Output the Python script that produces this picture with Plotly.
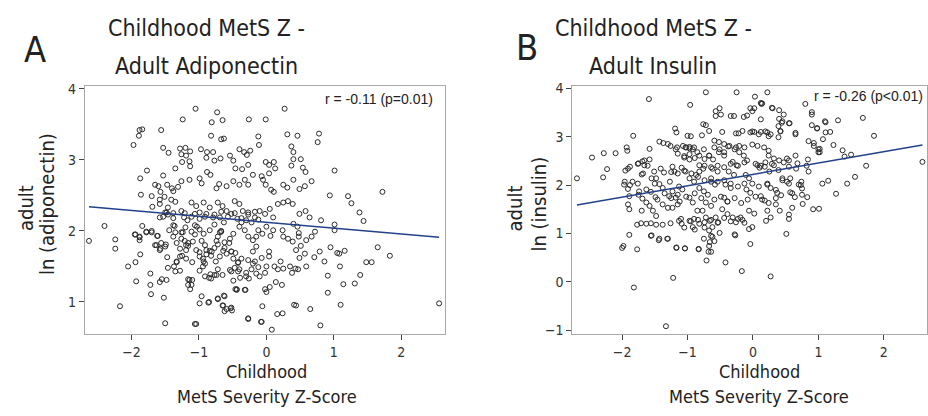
import plotly.graph_objects as go

# ---------------- data ----------------
adipo_x = [-1.05,-0.73,-0.01,0.27,-0.26,-1.24,-0.81,-0.65,-1.84,-1.88,-1.89,-1.56,-1.97,-0.82,-0.67,-0.63,
           0.31,0.46,-0.12,0.78,0.37,0.76,-0.11,-0.24,-0.29,1.01,-1.77,-1.87,-1.53,-1.45,-1.28,-1.20,-1.13,
           -1.26,-1.19,-1.25,-1.14,-1.35,-1.13,-0.97,-0.88,-0.89,-0.79,-0.77,-0.68,-0.54,-0.49,-0.40,-0.33,
           -0.46,-0.36,-0.27,-0.01,0.04,0.11,0.13,0.04,0.37,0.54,0.58,0.67,0.57,0.49,0.40,0.25,0.31,-0.20,
           -0.07,-0.05,-0.01,0.07,0.11,-0.32,-0.40,-0.27,-0.49,-0.59,-0.70,-0.74,-0.99,-0.96,-0.88,-0.83,
           -1.14,-1.26,-1.31,-1.38,-1.53,-1.47,-1.40,-1.65,-1.60,-1.57,-1.51,-1.86,-1.70,-1.58,-1.58,-1.41,
           -1.35,-1.46,-1.48,-1.69,-1.53,-1.58,-1.50,-1.38,-1.26,-1.22,-1.17,-1.11,-1.04,-1.06,-0.99,-0.93,
           -0.84,-0.89,-0.79,-0.72,-0.65,-0.59,-0.52,-0.69,-0.63,-0.47,-0.40,-0.35,-0.27,-0.43,-0.37,-0.30,
           -0.22,-0.17,-0.10,-0.02,0.05,0.10,0.17,0.25,0.32,0.39,0.49,0.58,0.64,0.40,0.46,1.38,1.21,1.26,
           1.72,0.94,1.44,1.01,1.01,0.81,0.72,0.67,0.59,0.48,0.48,0.32,0.39,0.24,0.25,0.10,0.06,0.00,-0.06,
           -0.12,-0.15,-0.20,-0.27,-0.32,-0.40,-0.49,-0.54,-0.67,-0.72,-0.84,-0.93,-1.03,-1.11,-1.20,-1.26,
           -1.38,-1.44,-1.62,-1.70,-1.78,-1.84,-1.95,-1.88,-2.40,-2.63,-2.24,-2.24,-2.05,-1.94,-1.87,-1.93,
           -2.17,-1.72,-1.71,-1.52,-1.50,-1.58,-1.55,-1.48,-1.63,-1.58,-1.56,-1.50,-1.47,-1.33,-1.28,-1.19,
           -1.19,-1.16,-1.16,-1.13,-1.10,-1.10,-0.99,-0.93,-0.94,-0.99,-0.85,-0.83,-0.99,-0.85,-0.72,-0.63,
           -1.04,-0.65,-0.62,-0.53,-0.51,-0.27,-0.08,-0.06,0.08,0.16,0.24,0.41,0.44,0.65,0.80,0.91,1.10,
           2.56,1.83,1.48,1.56,1.65,1.31,1.39,1.14,1.09,1.16,1.05,1.08,0.95,0.79,0.86,0.91,0.71,0.59,0.47,
           0.43,0.49,0.57,0.44,0.51,0.35,0.38,0.23,0.17,0.25,0.21,0.12,0.14,0.05,-0.02,0.00,-0.02,0.00,0.04,
           0.04,-0.07,-0.15,-0.20,-0.17,-0.22,-0.30,-0.26,-0.31,-0.40,-0.39,-0.44,-0.46,-0.42,-0.52,-0.54,
           -0.55,-0.62,-0.69,-0.75,-0.77,-0.81,-0.72,-0.77,-0.65,-0.49,-0.46,-0.89,-0.89,-1.04,-1.09,-1.16,
           -1.33,-1.26,-1.72,-1.46,-1.28,-1.37,-1.88,0.40,0.51,0.40,
           -1.65,-1.57,-1.49,-1.78,-1.70,-1.61,-1.94,-1.88,-1.35,-1.33,-1.38,-1.35,-1.36,-1.24,-1.21,-1.16,
           -1.28,-1.25,-1.19,-1.06,-0.99,-1.06,-0.96,-0.91,-0.99,-0.94,-0.91,-0.84,-0.82,-0.77,-0.69,-0.67,
           -0.74,-0.72,-0.62,-0.64,-0.59,-0.52,-0.49,-0.42,-0.47,-0.37,-0.27,-0.20,-0.12,-0.15,-0.10,-0.30,
           -0.42,-0.52,-0.44,-0.32,-0.74,-0.82,-0.91,-1.14,-1.11,-0.96,-0.86,-0.72,-0.62,-0.64,-0.59,-0.52,
           -0.27,-0.07,-1.06,-1.46,-1.38,-1.21,-1.11,-0.99,-0.91,-0.77,-0.67,-0.57,-0.47,-0.37,-0.27,-0.17,-0.12]
adipo_y = [3.72,3.67,3.57,3.72,3.57,3.57,3.53,3.56,3.43,3.42,3.34,3.42,3.21,3.34,3.29,3.30,
           3.36,3.34,3.33,3.37,3.19,3.25,3.21,3.13,3.07,2.85,2.85,2.74,3.17,3.10,3.16,3.17,3.12,
           3.08,3.06,2.97,2.98,2.88,2.91,3.15,3.11,3.03,3.11,2.99,3.02,3.06,2.99,3.15,3.11,
           2.88,2.87,2.93,2.97,2.93,2.97,2.88,2.81,2.92,2.89,2.83,2.70,2.63,2.59,2.72,2.65,2.61,2.79,
           2.77,2.72,2.65,2.58,2.55,2.72,2.65,2.65,2.70,2.63,2.66,2.60,2.74,2.67,2.83,2.79,
           2.72,2.70,2.62,2.56,2.78,2.65,2.60,2.65,2.63,2.55,2.48,2.51,2.49,2.44,2.38,2.44,
           2.41,2.33,2.26,2.34,2.20,2.19,2.26,2.25,2.28,2.19,2.15,2.40,2.35,2.24,2.17,2.40,
           2.33,2.24,2.19,2.40,2.35,2.28,2.24,2.19,2.12,2.42,2.38,2.28,2.26,2.17,2.12,2.15,
           2.12,2.19,2.28,2.24,2.31,2.19,2.38,2.40,2.42,2.38,2.24,2.28,2.19,2.10,2.06,2.26,2.49,2.39,
           2.55,2.50,2.14,2.09,2.01,2.15,1.99,1.92,1.87,1.97,1.92,1.89,1.85,2.01,1.92,2.01,1.93,2.06,1.96,
           2.01,1.92,1.87,1.92,2.01,2.06,1.96,1.89,1.99,1.92,2.01,1.96,2.06,1.99,2.05,1.98,
           2.08,2.01,1.93,1.98,1.99,2.07,1.95,1.92,2.07,1.86,1.88,1.75,1.50,1.56,1.67,1.29,
           0.94,1.24,1.11,1.06,0.70,1.28,1.32,1.31,1.80,1.73,1.83,1.78,1.63,1.56,1.64,1.73,
           1.80,1.32,1.24,1.18,1.31,1.56,1.64,1.57,1.50,1.44,1.34,1.39,0.98,1.00,1.05,1.09,
           0.69,0.95,0.87,0.91,0.88,0.77,0.72,0.94,0.61,0.83,0.84,0.96,0.95,0.90,0.67,1.13,0.96,
           0.98,1.65,1.56,1.56,1.77,1.26,1.38,1.25,1.50,1.72,1.69,1.68,1.77,1.71,1.57,1.37,1.63,1.50,1.46,
           1.47,1.62,1.68,1.73,1.79,1.50,1.41,1.24,1.46,1.47,1.57,1.50,1.28,1.21,1.18,1.14,1.41,1.50,1.64,
           1.71,1.62,1.78,1.71,1.57,1.46,1.41,1.33,1.17,1.46,1.34,1.18,1.69,1.55,1.71,1.45,
           1.83,1.76,1.64,1.57,1.76,1.71,1.46,1.38,1.38,1.30,1.18,1.73,1.67,1.73,1.85,1.83,
           1.83,1.89,1.40,1.48,1.44,1.50,1.87,3.11,3.01,3.01,
           1.80,1.75,1.81,1.98,2.00,1.93,1.95,1.91,1.43,1.57,1.92,1.98,2.07,1.98,1.86,1.79,
           1.75,1.65,1.61,2.08,2.02,1.95,1.86,1.80,1.70,1.61,1.54,1.72,1.65,2.09,1.98,2.00,
           1.86,1.81,1.84,1.72,1.68,1.71,1.61,1.56,1.48,1.61,1.59,1.54,1.49,1.40,1.36,1.36,
           1.43,1.43,1.17,1.17,1.38,1.33,1.36,1.31,1.24,1.08,0.99,1.04,1.08,0.95,0.90,0.92,
           0.76,0.72,0.69,2.23,2.18,2.25,2.20,2.26,2.20,2.23,2.27,2.20,2.25,2.18,2.23,2.27,2.16]

ins_x = [-2.69,-2.46,-2.28,-2.23,-2.29,-2.10,-1.95,-1.91,-1.93,-1.92,-1.83,-1.88,-1.84,-1.97,-1.91,
         -1.75,-1.69,-1.66,-1.59,-1.58,-1.58,-1.70,-1.89,-1.91,-1.89,-1.75,-1.69,-1.63,-1.56,-1.51,-1.48,
         -1.43,-1.37,-1.30,-1.41,-1.36,-1.43,-1.38,-1.49,-1.46,-1.38,-1.30,-1.27,-1.23,-1.20,-1.18,-1.15,
         -1.19,-1.17,-0.96,-0.72,-1.00,-0.95,-1.03,-0.97,-0.90,-1.05,-0.97,-1.09,-1.03,-1.13,-1.08,-1.18,
         -1.12,-1.23,-1.15,-0.97,-0.92,-0.97,-0.90,-0.82,-0.76,-0.85,-0.75,-0.76,-0.72,-0.78,-0.67,-0.59,
         -0.52,-0.57,-0.51,-0.49,-0.57,-0.47,-0.34,-0.29,-0.25,-0.26,-0.22,-0.16,-0.14,-0.09,-0.04,-0.01,
         0.03,0.22,0.12,0.13,0.12,-0.04,0.02,0.12,0.30,0.40,0.47,0.39,0.44,0.56,0.22,0.27,0.42,0.39,0.65,
         0.80,0.90,0.90,0.90,0.98,1.11,1.11,1.18,1.30,1.68,1.85,0.93,1.02,1.02,1.07,1.23,1.37,1.40,1.50,
         1.73,2.59,1.56,1.44,1.15,1.06,1.27,0.92,1.01,0.84,0.74,0.70,0.75,0.83,0.76,0.65,0.68,0.66,0.52,
         0.55,0.45,0.52,0.57,0.64,0.55,0.55,0.51,0.37,0.43,0.35,0.41,0.32,0.39,0.24,0.32,0.18,0.25,0.07,
         0.10,0.22,0.27,0.12,0.18,0.22,0.27,0.20,0.27,-0.04,-0.01,-0.06,-0.06,0.02,-0.10,-0.04,-0.11,-0.06,
         -0.14,-0.09,-0.26,-0.21,-0.31,-0.25,-0.37,-0.29,-0.42,-0.34,-0.44,-0.39,-0.47,-0.39,-0.31,-0.26,
         -0.19,-0.16,-0.17,-0.42,-0.27,-0.57,-0.53,-0.62,-0.67,-0.62,-0.66,-0.75,-0.68,-0.71,-0.83,-1.04,
         -1.17,-1.22,-1.33,-1.82,-1.77,-2.00,-1.98,-1.89,-1.56,-1.43,-1.30,-1.63,-1.56,-1.48,-1.38,-1.26,
         -1.13,-1.09,-0.97,-0.90,-0.92,-0.82,-0.72,-0.66,-0.85,-0.77,-0.72,-0.64,-0.82,-0.75,-0.64,-0.58,
         -0.62,-0.54,-0.67,-0.61,-0.52,-0.44,-0.44,-0.38,-0.87,-0.82,-1.23,-1.28,-1.53,-1.48,-1.70,-1.63,
         -1.58,-1.74,-1.77,-1.71,0.82,0.85,0.60,
         -1.26,-1.16,-1.07,-1.02,-0.97,-0.92,-1.05,-0.97,-0.89,-0.82,-0.74,-0.67,-0.59,-0.51,-0.44,
         -0.36,-0.28,-0.21,-0.13,-0.74,-0.64,-0.54,-0.44,-0.34,-0.23,-0.13,-1.25,-1.15,-1.05,-0.94,
         -0.84,-0.74,-0.64,-0.54,-0.44,-0.34,-0.23,-0.13,-1.35,-1.25,-1.15,-1.02,-0.89,-0.79,-0.69,
         -0.59,-0.49,-0.39,-0.28,-0.18,-0.08,-1.50,-1.55,-1.68,-1.76,-1.66,-1.61,-1.96,-1.88,-1.76,
         -0.01,0.09,0.19,0.24,-0.01,0.07,0.17,0.24,0.04,0.12,0.19,0.29,0.40,0.47,0.55,-0.01,0.09,
         0.22,0.35,0.45,0.57,0.55,0.04,0.14,0.24,0.35,0.73,0.75,0.60,0.98,1.10,0.65,0.85,0.93,1.00,
         1.00,0.45,0.55,0.42,0.02,0.14,0.29,0.40,-1.55,-1.44,-1.31,-1.17,-1.04,-0.83,-1.10,-0.95,
         -0.84,-0.74,-0.64,-0.54,-0.44,-0.34,-0.23,-0.13,-1.05,-0.89,-0.74,-0.51,-0.64,-0.28,-0.59,
         -0.67,-0.64]
ins_y = [2.14,2.57,2.66,2.33,2.16,2.66,2.30,2.34,2.78,2.71,3.02,2.38,2.07,2.01,1.92,
         2.45,2.49,2.41,3.78,2.75,2.53,2.22,1.77,1.60,1.50,1.80,1.72,1.91,1.86,2.28,2.14,
         2.90,2.87,2.85,2.34,2.26,2.02,1.94,1.75,1.70,1.60,1.53,2.07,2.38,2.28,2.74,2.65,
         3.17,3.09,3.66,3.92,3.02,3.01,2.78,2.76,2.78,2.60,2.53,2.36,2.28,1.97,1.91,1.74,
         1.66,1.53,1.60,1.74,1.64,2.14,2.07,2.41,2.34,2.68,2.74,3.26,3.24,3.03,3.12,2.92,
         2.89,3.53,3.59,3.46,3.43,3.10,3.43,3.43,3.92,3.07,3.07,3.12,3.41,3.44,3.59,3.53,
         3.83,3.92,3.70,3.68,3.36,3.09,3.10,3.10,3.59,3.37,3.46,3.22,3.29,3.28,3.09,3.05,3.12,2.99,3.05,
         3.68,3.46,3.51,3.24,3.17,3.30,3.09,3.10,3.34,3.39,3.02,2.87,2.75,2.68,2.95,2.83,2.72,2.59,2.63,
         2.40,2.48,2.17,2.03,2.09,2.03,1.82,1.50,1.51,2.53,2.07,2.01,1.80,1.75,1.61,2.61,2.45,2.34,2.55,
         2.38,2.14,2.07,1.85,1.75,1.39,1.30,0.99,1.84,1.79,1.60,1.47,2.41,2.31,2.61,2.55,2.38,2.28,2.41,
         2.36,2.01,1.94,1.77,1.68,1.47,1.33,1.26,0.11,0.78,1.13,1.09,1.47,1.41,1.91,1.84,2.21,2.14,
         2.61,2.51,2.78,2.68,2.48,2.41,2.28,2.21,2.01,1.94,1.74,1.66,1.50,1.40,1.33,1.23,
         1.33,1.28,0.22,0.40,0.96,1.33,1.23,1.13,1.06,0.93,0.82,0.89,0.62,0.44,0.67,0.69,
         0.70,0.08,-0.92,-0.12,0.67,0.70,0.74,0.97,0.95,0.89,0.89,1.20,1.21,1.18,1.18,1.21,
         1.26,1.20,1.26,1.30,1.13,1.20,1.33,1.26,1.47,1.47,1.64,1.57,1.94,1.87,2.07,2.01,
         2.34,2.28,2.61,2.53,2.68,2.61,2.85,2.80,2.21,2.28,1.87,1.77,1.47,1.36,1.47,1.64,
         1.57,1.87,1.18,1.21,2.40,2.28,1.53,
         2.81,2.78,2.81,2.78,2.79,2.74,2.57,2.64,2.56,2.61,2.54,2.61,2.78,2.74,2.68,
         2.81,2.74,2.81,2.78,2.40,2.37,2.40,2.37,2.44,2.40,2.47,2.27,2.24,2.30,2.24,
         2.17,2.10,2.14,2.07,2.10,2.03,1.97,2.03,1.83,1.73,1.80,1.76,1.83,1.73,1.80,
         1.70,1.76,1.66,1.73,1.63,1.70,2.03,2.14,2.24,2.44,2.51,2.40,2.07,2.00,2.03,
         3.11,3.05,3.11,3.01,2.84,2.81,2.78,2.71,2.44,2.40,2.47,2.44,2.51,2.47,2.51,2.03,1.97,
         2.03,1.90,2.10,2.14,2.03,1.76,1.70,1.63,1.73,2.00,1.93,1.83,3.18,3.32,3.08,2.91,2.81,2.74,
         2.68,3.32,3.28,3.11,3.59,3.69,3.60,3.55,0.96,0.86,0.89,0.71,0.69,0.68,1.30,1.25,
         1.28,1.23,1.28,1.22,1.32,1.25,1.30,1.22,1.12,1.08,1.12,1.01,0.95,0.98,0.84,
         0.74,0.62]

# regression lines (end points)
adipo_fit_x = [-2.63, 2.56]
adipo_fit_y = [2.34, 1.91]
ins_fit_x = [-2.69, 2.59]
ins_fit_y = [1.59, 2.83]

x_ticks = [-2, -1, 0, 1, 2]
adipo_y_ticks = [1, 2, 3, 4]
ins_y_ticks = [-1, 0, 1, 2, 3, 4]

title_lines = [("Childhood MetS Z -", "Adult Adiponectin"), ("Childhood MetS Z -", "Adult Insulin")]
y_titles = [("adult", "ln (adiponectin)"), ("adult", "ln (insulin)")]
x_title_lines = ("Childhood", "MetS Severity Z-Score")
stats = ["r = -0.11 (p=0.01)", "r = -0.26 (p&lt;0.01)"]
letters = ["A", "B"]

# ---------------- figure ----------------
W, H = 928, 416
COND = "DejaVu Sans Condensed, Liberation Sans Narrow, sans-serif"
SANS = "Liberation Sans, Arial, sans-serif"
marker = dict(symbol="circle-open", size=5, color="#2b2b2b", line=dict(width=1))
line_col = "#23418a"

fig = go.Figure()
fig.add_trace(go.Scatter(x=adipo_x, y=adipo_y, mode="markers", marker=marker, xaxis="x", yaxis="y",
                         showlegend=False, hoverinfo="skip"))
fig.add_trace(go.Scatter(x=adipo_fit_x, y=adipo_fit_y, mode="lines", line=dict(color=line_col, width=1.5),
                         xaxis="x", yaxis="y", showlegend=False))
fig.add_trace(go.Scatter(x=ins_x, y=ins_y, mode="markers", marker=marker, xaxis="x2", yaxis="y2",
                         showlegend=False, hoverinfo="skip"))
fig.add_trace(go.Scatter(x=ins_fit_x, y=ins_fit_y, mode="lines", line=dict(color=line_col, width=1.5),
                         xaxis="x2", yaxis="y2", showlegend=False))


def px(v):
    return v / W


def py(v):
    return 1 - v / H


axis_common = dict(showgrid=False, zeroline=False, showline=True, linecolor="#a8a8a8", linewidth=1,
                   mirror=True, ticks="outside", ticklen=5, tickcolor="#444", tickwidth=1,
                   tickfont=dict(family=COND, size=14, color="#333"))

fig.update_layout(
    width=W, height=H, margin=dict(l=0, r=0, t=0, b=0),
    paper_bgcolor="white", plot_bgcolor="white",
    xaxis=dict(domain=[px(85), px(445)], range=[-2.69, 2.64], tickvals=x_ticks, anchor="y", **axis_common),
    yaxis=dict(domain=[py(336), py(82)], range=[0.55, 4.04], tickvals=adipo_y_ticks, anchor="x", **axis_common),
    xaxis2=dict(domain=[px(573), 1.0], range=[-2.76, 2.66], tickvals=x_ticks, anchor="y2", **axis_common),
    yaxis2=dict(domain=[py(336), py(82)], range=[-1.08, 4.05], tickvals=ins_y_ticks, anchor="x2", **axis_common),
)


def text_ann(text, x, y, size, family=COND, xanchor="center", angle=0):
    return dict(text=text, x=px(x), y=py(y), xref="paper", yref="paper", xanchor=xanchor,
                yanchor="middle", textangle=angle, showarrow=False,
                font=dict(family=family, size=size, color="#222"))


ann = []
title_centers = [207, 654]
x_title_centers = [267, 760]
y_title_x = [(26, 47), (516, 540)]
for i in range(2):
    ann.append(text_ann(title_lines[i][0], title_centers[i], 23, 23))
    ann.append(text_ann(title_lines[i][1], title_centers[i], 61, 23))
    ann.append(text_ann(y_titles[i][0], y_title_x[i][0], 207, 20, angle=-90))
    ann.append(text_ann(y_titles[i][1], y_title_x[i][1], 203, 20, angle=-90))
    ann.append(text_ann(x_title_lines[0], x_title_centers[i], 374, 18))
    ann.append(text_ann(x_title_lines[1], x_title_centers[i], 400, 18))
ann.append(text_ann(letters[0], 35, 45, 36))
ann.append(text_ann(letters[1], 528, 43, 36))
ann.append(text_ann(stats[0], 323, 95, 14, family=SANS, xanchor="left"))
ann.append(text_ann(stats[1], 813, 92, 14, family=SANS, xanchor="left"))
fig.update_layout(annotations=ann)

fig.write_html("out.html", config={"displayModeBar": False},
               post_script="document.body.style.margin='0px';")
